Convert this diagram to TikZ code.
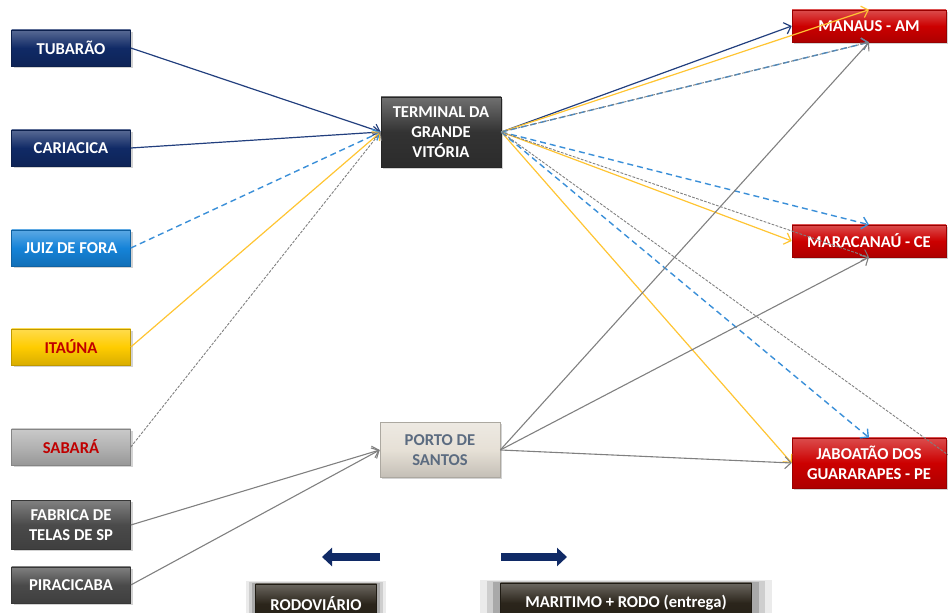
\documentclass[tikz,border=0pt]{standalone}
\usepackage{fontspec}
\setmainfont{Carlito}
\usetikzlibrary{arrows.meta,shadows}

\definecolor{navy}{HTML}{102A66}
\definecolor{navyline}{HTML}{223F7E}
\definecolor{skyblue}{HTML}{1583D8}
\definecolor{skyline}{HTML}{3A8FD8}
\definecolor{gold}{HTML}{FFCC00}
\definecolor{goldline}{HTML}{FFC533}
\definecolor{silver}{HTML}{B2B2B2}
\definecolor{slate}{HTML}{4A4A4A}
\definecolor{coal}{HTML}{333333}
\definecolor{crimson}{HTML}{CC0000}
\definecolor{sand}{HTML}{E6E0D6}
\definecolor{ink}{HTML}{5B6B80}
\definecolor{darkred}{HTML}{C00000}
\definecolor{umber}{HTML}{2B251B}
\definecolor{routegray}{HTML}{808080}

\tikzset{
  box/.style={font=\bfseries\fontsize{8.3}{10}\selectfont, align=center, inner sep=1pt, text=white,
    top color=#1!70!white, bottom color=#1!85!black, middle color=#1, draw=#1!75!black, line width=0.3pt,
    drop shadow={opacity=0.35, shadow xshift=1pt, shadow yshift=-1pt}},
  origin/.style={box=#1, minimum width=59.5pt, minimum height=18pt},
  hub/.style={box=#1, minimum width=60pt},
  dest/.style={box=crimson, minimum width=77pt},
  legendbox/.style={font=\bfseries\fontsize{8.3}{10}\selectfont, text=white, inner sep=1pt,
    top color=umber!70!white, bottom color=umber!85!black, middle color=umber, draw=umber!75!black,
    minimum height=20pt,
    general shadow={shadow scale=1.16, opacity=0.08, fill=black},
    general shadow={shadow scale=1.11, opacity=0.12, fill=black},
    general shadow={shadow scale=1.06, opacity=0.18, fill=black}},
  tip/.style={-{Straight Barb[length=3pt,width=6pt]}},
  navyroute/.style={tip, draw=navyline, line width=0.6pt},
  blueroute/.style={tip, draw=skyline, line width=0.7pt, dash pattern=on 3pt off 2pt},
  goldroute/.style={tip, draw=goldline, line width=0.6pt},
  grayroute/.style={tip, draw=routegray, line width=0.45pt, dash pattern=on 1.4pt off 0.7pt},
  searoute/.style={tip, draw=routegray, line width=0.55pt},
  modearrow/.style={draw=navy, line width=4pt, -{Triangle[length=5pt,width=9pt]}}
}

\begin{document}
\begin{tikzpicture}[x=0.5pt,y=-0.5pt]
\useasboundingbox (0,0) rectangle (948,613);
\clip (0,0) rectangle (948,613);

% origins
\node[origin=navy]    (tub) at (71,48)  {TUBARÃO};
\node[origin=navy]    (car) at (71,148) {CARIACICA};
\node[origin=skyblue] (jdf) at (71,248) {JUIZ DE FORA};
\node[origin=gold, text=darkred]   (ita) at (71,347) {ITAÚNA};
\node[origin=silver, text=darkred] (sab) at (71,447) {SABARÁ};
\node[origin=slate, minimum height=24.5pt] (fab) at (71,525) {FABRICA DE\\TELAS DE SP};
\node[origin=slate]   (pir) at (71,585) {PIRACICABA};

% hubs
\node[hub=coal, minimum height=35pt] (T) at (441,132) {TERMINAL DA\\GRANDE\\VITÓRIA};
\node[hub=sand, text=ink, minimum height=27.5pt] (P) at (440,450) {PORTO DE\\SANTOS};

% destinations
\node[dest, minimum height=16pt]   (M) at (869,26)  {MANAUS - AM};
\node[dest, minimum height=16pt]   (R) at (869,241) {MARACANAÚ - CE};
\node[dest, minimum height=25pt]   (J) at (869,463) {JABOATÃO DOS\\GUARARAPES - PE};
\coordinate (Jout) at (980,478);

% legend
\node[legendbox, minimum width=60.5pt] (rod) at (316,604) {RODOVIÁRIO};
\node[legendbox, minimum width=125.5pt] (mar) at (626,603) {MARITIMO + RODO (entrega)};
\coordinate (rodA) at (380,557);
\coordinate (rodB) at (322,557);
\coordinate (marA) at (501,557);
\coordinate (marB) at (567,557);
\draw[modearrow] (rodA) -- (rodB);
\draw[modearrow] (marA) -- (marB);

% to terminal
\draw[navyroute] (tub.east) -- (T.west);
\draw[navyroute] (car.east) -- (T.west);
\draw[blueroute] (jdf.east) -- (T.west);
\draw[goldroute] (ita.east) -- (T.west);
\draw[grayroute] (sab.east) -- (T.west);

% to porto
\draw[searoute] (fab.east) -- (P.west);
\draw[searoute] (pir.east) -- (P.west);

% from terminal
\draw[navyroute] (T.east) -- (M.west);
\draw[goldroute] (T.east) -- (M.north);
\draw[blueroute] (T.east) -- (M.south);
\draw[grayroute] (T.east) -- (M.south);
\draw[blueroute] (T.east) -- (R.north);
\draw[goldroute] (T.east) -- (R.west);
\draw[grayroute] (T.east) -- (R.south);
\draw[goldroute] (T.east) -- (J.west);
\draw[blueroute] (T.east) -- (J.north);
\draw[grayroute] (T.east) -- (Jout);

% from porto
\draw[searoute] (P.east) -- (M.south);
\draw[searoute] (P.east) -- (R.south);
\draw[searoute] (P.east) -- (J.west);
\end{tikzpicture}
\end{document}
